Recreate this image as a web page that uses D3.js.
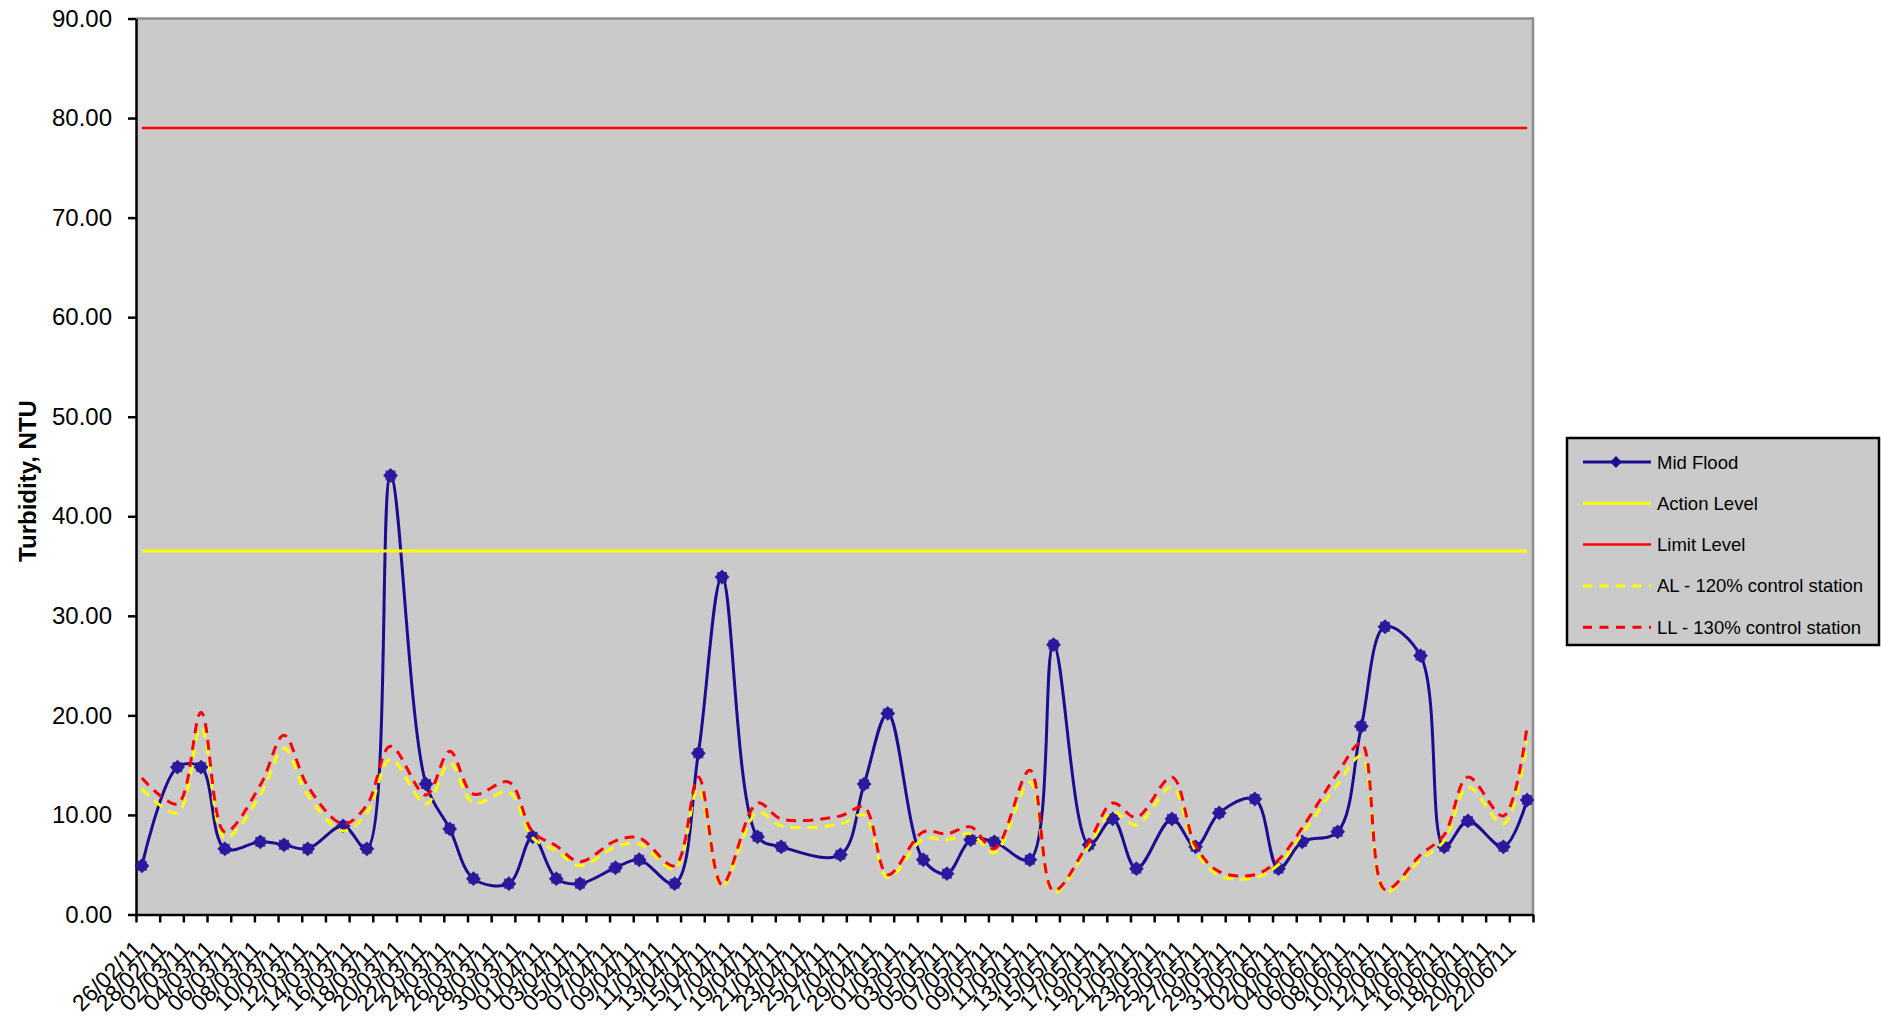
<!DOCTYPE html>
<html>
<head>
<meta charset="utf-8">
<script src="https://cdn.jsdelivr.net/npm/d3@7/dist/d3.min.js"></script>
<style>
  html, body { margin: 0; padding: 0; background: #ffffff; }
  svg { display: block; font-family: "Liberation Sans", Arial, sans-serif; }
</style>
</head>
<body>
<svg id="chart" width="1881" height="1019"></svg>
<script>
// ---------------- DATA ----------------
const sampleDates = ["26/02/11","01/03/11","03/03/11","05/03/11","08/03/11","10/03/11","12/03/11","15/03/11","17/03/11","19/03/11",
  "22/03/11","24/03/11","26/03/11","29/03/11","31/03/11","02/04/11","04/04/11","07/04/11","09/04/11","12/04/11",
  "14/04/11","16/04/11","19/04/11","21/04/11","26/04/11","28/04/11","30/04/11","03/05/11","05/05/11","07/05/11",
  "09/05/11","12/05/11","14/05/11","17/05/11","19/05/11","21/05/11","24/05/11","26/05/11","28/05/11","31/05/11",
  "02/06/11","04/06/11","07/06/11","09/06/11","11/06/11","14/06/11","16/06/11","18/06/11","21/06/11","23/06/11"];

const midFlood = [4.9,14.8,14.8,6.6,7.3,7.0,6.6,8.9,6.6,44.1,
  13.1,8.6,3.6,3.1,7.8,3.6,3.1,4.7,5.5,3.1,
  16.2,33.9,7.8,6.8,6.0,13.1,20.2,5.5,4.1,7.5,
  7.3,5.5,27.1,7.0,9.6,4.6,9.6,6.8,10.2,11.6,
  4.6,7.3,8.3,18.9,28.9,26.0,6.8,9.4,6.8,11.5];

const alControl = [12.6,10.2,18.8,7.7,12.0,16.7,12.0,8.4,10.2,15.6,
  11.1,15.2,11.2,12.3,7.7,6.4,4.9,6.8,7.1,4.6,
  12.7,2.8,10.3,8.9,9.1,10.0,3.7,7.6,7.5,8.1,
  6.2,13.3,2.2,6.9,10.3,9.0,12.8,6.4,3.9,3.7,
  5.0,8.1,13.1,15.9,2.3,5.5,7.4,12.8,9.1,17.4];

const llControl = [13.7,11.1,20.3,8.3,13.0,18.0,12.9,9.1,11.0,16.9,
  12.0,16.4,12.1,13.3,8.3,6.9,5.3,7.4,7.7,4.9,
  13.8,3.0,11.2,9.6,9.9,10.8,4.0,8.3,8.1,8.8,
  6.6,14.5,2.4,7.3,11.2,9.75,13.8,6.9,4.3,4.0,
  5.5,8.7,14.2,17.2,2.5,6.0,8.0,13.8,9.9,18.9];

const actionLevel = 36.5;
const limitLevel = 79.0;

const xTickLabels = ["26/02/11","28/02/11","02/03/11","04/03/11","06/03/11","08/03/11","10/03/11","12/03/11","14/03/11","16/03/11",
  "18/03/11","20/03/11","22/03/11","24/03/11","26/03/11","28/03/11","30/03/11","01/04/11","03/04/11","05/04/11",
  "07/04/11","09/04/11","11/04/11","13/04/11","15/04/11","17/04/11","19/04/11","21/04/11","23/04/11","25/04/11",
  "27/04/11","29/04/11","01/05/11","03/05/11","05/05/11","07/05/11","09/05/11","11/05/11","13/05/11","15/05/11",
  "17/05/11","19/05/11","21/05/11","23/05/11","25/05/11","27/05/11","29/05/11","31/05/11","02/06/11","04/06/11",
  "06/06/11","08/06/11","10/06/11","12/06/11","14/06/11","16/06/11","18/06/11","20/06/11","22/06/11"];
const axisStart = "26/02/11";
const axisEnd = "24/06/11";

const yTicks = [0,10,20,30,40,50,60,70,80,90];
const yTitle = "Turbidity, NTU";
const legendLabels = ["Mid Flood","Action Level","Limit Level","AL - 120% control station","LL - 130% control station"];

// ---------------- SETUP ----------------
const parse = d3.utcParse("%d/%m/%y");
const svg = d3.select("#chart");
const X0 = 136, X1 = 1533, YB = 914.5, YT = 18.5;
const FONT = '"Liberation Sans", Arial, sans-serif';

const x = d3.scaleUtc().domain([parse(axisStart), parse(axisEnd)]).range([X0, X1]);
const y = d3.scaleLinear().domain([0, 90]).range([YB, YT]);
const mid = d => x(d3.utcHour.offset(d, 12));   // centre of the day slot

const dates = sampleDates.map(parse);
const rows = dates.map((d, i) => ({ d, mf: midFlood[i], al: alControl[i], ll: llControl[i] }));

const navy = "#1c0c90";

// plot area
svg.append("rect").attr("x", X0).attr("y", YT).attr("width", X1 - X0).attr("height", YB - YT)
  .attr("fill", "#cacaca");
svg.append("path").attr("d", `M${X0},${YT}H${X1}V${YB}`).attr("fill", "none")
  .attr("stroke", "#8e8e8e").attr("stroke-width", 2.5);

// y axis
const yAxis = svg.append("g").attr("transform", `translate(${X0},0)`)
  .call(d3.axisLeft(y).tickValues(yTicks).tickFormat(d3.format(".2f")).tickSize(8).tickSizeOuter(0).tickPadding(16));
yAxis.select(".domain").attr("stroke", "#000").attr("stroke-width", 2.5);
yAxis.selectAll(".tick line").attr("stroke", "#000").attr("stroke-width", 2.5);
yAxis.selectAll(".tick text").attr("font-size", 24).attr("font-family", FONT).attr("fill", "#000");

// x axis (ticks only)
const tickDates = xTickLabels.map(parse).concat([parse(axisEnd)]);
const xAxis = svg.append("g").attr("transform", `translate(0,${YB})`)
  .call(d3.axisBottom(x).tickValues(tickDates).tickFormat("").tickSize(8).tickSizeOuter(0));
xAxis.select(".domain").attr("stroke", "#000").attr("stroke-width", 2.5);
xAxis.selectAll(".tick line").attr("stroke", "#000").attr("stroke-width", 2.5);

svg.append("g").selectAll("text").data(xTickLabels).join("text")
  .attr("transform", s => `translate(${mid(parse(s)) + 2},${YB + 36}) rotate(-45)`)
  .attr("text-anchor", "end")
  .attr("font-size", 23).attr("font-family", FONT).attr("fill", "#000")
  .text(s => s);

// y title
svg.append("text").attr("transform", `translate(27,${481}) rotate(-90)`)
  .attr("text-anchor", "middle").attr("dominant-baseline", "central")
  .attr("font-size", 24).attr("font-weight", "bold").attr("font-family", FONT)
  .text(yTitle);

// ---------------- SERIES ----------------
const smooth = d3.curveCatmullRom.alpha(0.5);

svg.append("path").datum(rows)
  .attr("d", d3.line().x(r => mid(r.d)).y(r => y(r.mf)).curve(smooth))
  .attr("fill", "none").attr("stroke", navy).attr("stroke-width", 3);

const marker = svg.append("g").selectAll("g").data(rows).join("g")
  .attr("transform", r => `translate(${mid(r.d)},${y(r.mf)})`);
marker.append("path").attr("d", d3.symbol(d3.symbolSquare, 110)()).attr("transform", "rotate(45)")
  .attr("fill", "#2a1a9c");
marker.append("path").attr("d", d3.symbol(d3.symbolSquare, 100)())
  .attr("fill", "#2a1a9c").attr("opacity", 0.85);

const first = dates[0], last = dates[dates.length - 1];
svg.append("line").attr("x1", mid(first)).attr("x2", mid(last))
  .attr("y1", y(actionLevel)).attr("y2", y(actionLevel))
  .attr("stroke", "#ffff00").attr("stroke-width", 3);
svg.append("line").attr("x1", mid(first)).attr("x2", mid(last))
  .attr("y1", y(limitLevel)).attr("y2", y(limitLevel))
  .attr("stroke", "#ff0000").attr("stroke-width", 2.5);

svg.append("path").datum(rows)
  .attr("d", d3.line().x(r => mid(r.d)).y(r => y(r.al)).curve(smooth))
  .attr("fill", "none").attr("stroke", "#ffff00").attr("stroke-width", 3).attr("stroke-dasharray", "10,7");
svg.append("path").datum(rows)
  .attr("d", d3.line().x(r => mid(r.d)).y(r => y(r.ll)).curve(smooth))
  .attr("fill", "none").attr("stroke", "#ff0000").attr("stroke-width", 3).attr("stroke-dasharray", "10,7");

// ---------------- LEGEND ----------------
const lg = svg.append("g");
lg.append("rect").attr("x", 1567).attr("y", 438).attr("width", 312).attr("height", 207)
  .attr("fill", "#cacaca").attr("stroke", "#000").attr("stroke-width", 2.5);
const styles = [
  { c: navy, dash: null, w: 3, m: true },
  { c: "#ffff00", dash: null, w: 3 },
  { c: "#ff0000", dash: null, w: 2.5 },
  { c: "#ffff00", dash: "9,7.5", w: 3 },
  { c: "#ff0000", dash: "9,7.5", w: 3 }
];
legendLabels.forEach((lab, i) => {
  const yy = 462 + i * 41.3;
  const s = styles[i];
  lg.append("line").attr("x1", 1583).attr("x2", 1651).attr("y1", yy).attr("y2", yy)
    .attr("stroke", s.c).attr("stroke-width", s.w).attr("stroke-dasharray", s.dash);
  if (s.m) {
    lg.append("path").attr("d", d3.symbol(d3.symbolSquare, 70)())
      .attr("transform", `translate(1616,${yy}) rotate(45)`).attr("fill", s.c);
  }
  lg.append("text").attr("x", 1657).attr("y", yy).attr("dominant-baseline", "central")
    .attr("font-size", 18.5).attr("font-family", FONT).text(lab);
});
</script>
</body>
</html>
